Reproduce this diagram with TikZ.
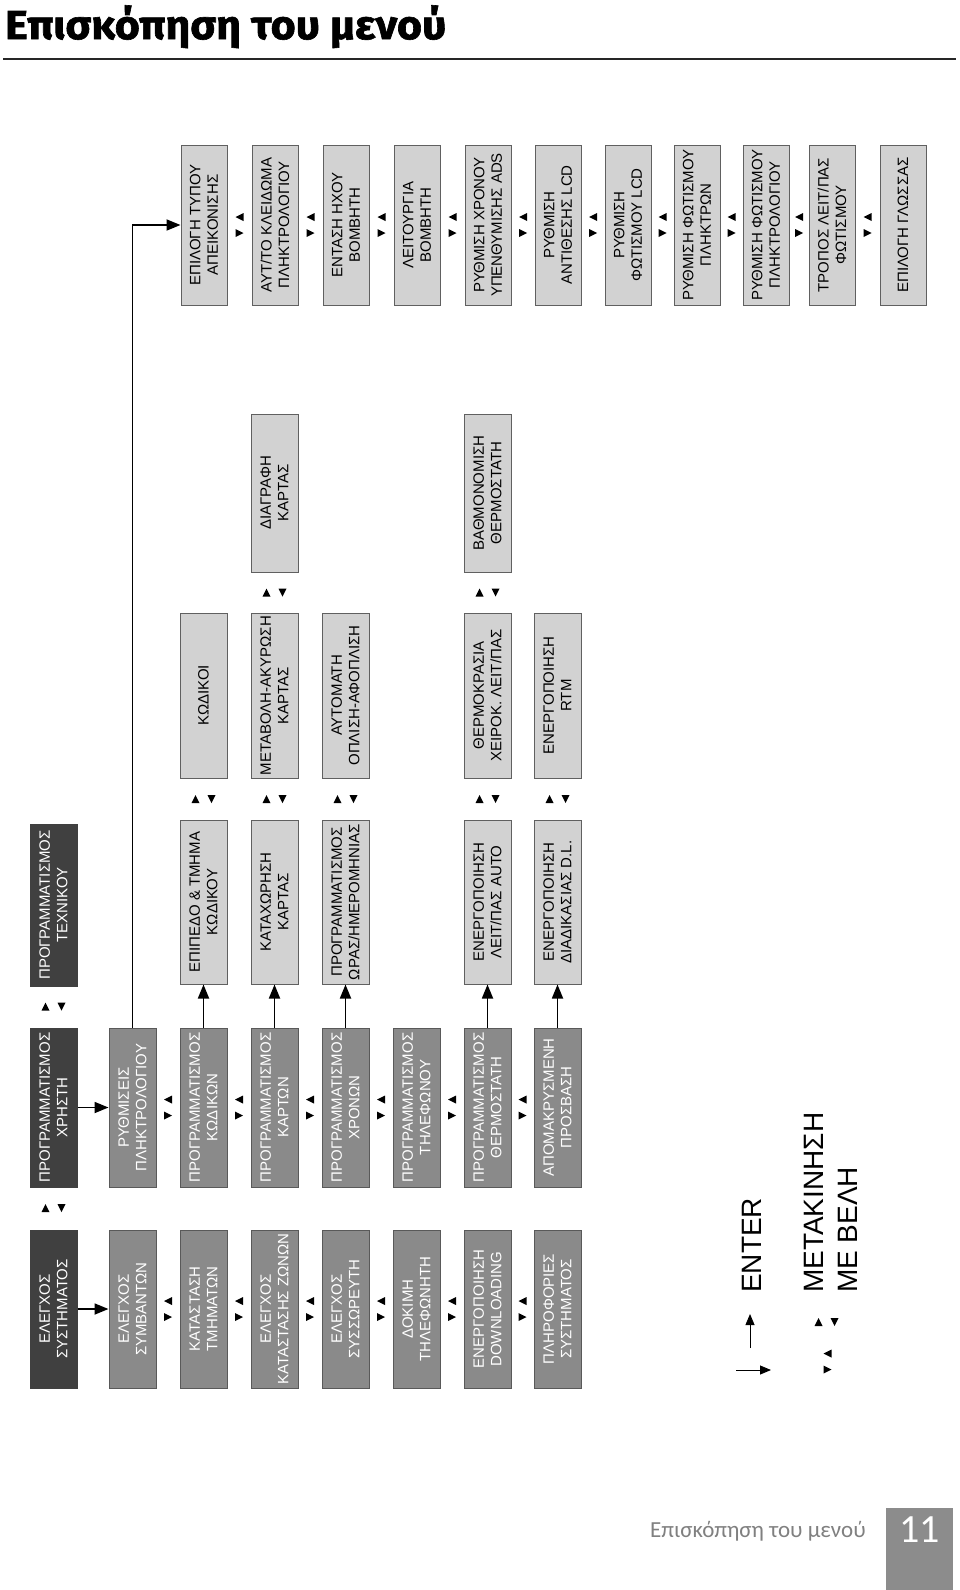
\documentclass[tikz,border=0pt]{standalone}
\usepackage{fontspec}
\usepackage{graphicx}
\setmainfont{Liberation Sans}
\newfontfamily\titlefont[BoldFeatures={FakeBold=1.5}]{Fira Sans}
\newfontfamily\footfont{Carlito}
\usetikzlibrary{arrows.meta}
\definecolor{darkbox}{HTML}{404040}
\definecolor{midbox}{HTML}{8A8A8A}
\definecolor{lightfill}{HTML}{D2D2D2}
\definecolor{boxline}{HTML}{606060}
\definecolor{footgray}{HTML}{8C8C8C}
\definecolor{foottext}{HTML}{808080}
\newcommand\navUD[2]{\fill[shift={(#1,#2)}] (-12,4) -- (-4,4) -- (-8,-4) -- cycle (4,-4) -- (12,-4) -- (8,4) -- cycle;}
\newcommand\navLR[2]{\fill[shift={(#1,#2)}] (4,-12) -- (4,-4) -- (-4,-8) -- cycle (-4,4) -- (-4,12) -- (4,8) -- cycle;}
\begin{document}
\begin{tikzpicture}[x=1pt,y=-1pt,
  box/.style={rotate=90, inner sep=0pt, minimum height=47pt, align=center, font=\fontsize{15}{17.5}\selectfont, line width=1pt},
  darkbx/.style={box, fill=darkbox, draw=darkbox, text=white},
  midbx/.style={box, fill=midbox, draw=black!65, text=white},
  lightbx/.style={box, fill=lightfill, draw=boxline, text=black},
  topbx/.style={lightbx, minimum height=46pt, minimum width=160pt},
  enter/.style={line width=1.8pt, -{Triangle[length=14pt,width=11pt]}},
  legarrow/.style={line width=0.9pt, -{Triangle[length=11pt,width=9pt]}},
]
\fill[white] (0,0) rectangle (960,1590);
\useasboundingbox (0,0) rectangle (960,1590);

% title
\node[anchor=north west, inner sep=0pt] (title) at (5,5) {\resizebox*{441pt}{43pt}{\titlefont\bfseries Επισκόπηση του μενού}};
\draw[line width=1.5pt, black!85] (3,59) -- (956,59);

% row A
\node[darkbx, minimum width=158pt] (a0) at (53.5,1309) {ΕΛΕΓΧΟΣ\\ΣΥΣΤΗΜΑΤΟΣ};
\node[midbx, minimum width=158pt] (a1) at (132.5,1309) {ΕΛΕΓΧΟΣ\\ΣΥΜΒΑΝΤΩΝ};
\node[midbx, minimum width=158pt] (a2) at (203.5,1309) {ΚΑΤΑΣΤΑΣΗ\\ΤΜΗΜΑΤΩΝ};
\node[midbx, minimum width=158pt] (a3) at (274.5,1309) {ΕΛΕΓΧΟΣ\\ΚΑΤΑΣΤΑΣΗΣ ΖΩΝΩΝ};
\node[midbx, minimum width=158pt] (a4) at (345.5,1309) {ΕΛΕΓΧΟΣ\\ΣΥΣΣΩΡΕΥΤΗ};
\node[midbx, minimum width=158pt] (a5) at (416.5,1309) {ΔΟΚΙΜΗ\\ΤΗΛΕΦΩΝΗΤΗ};
\node[midbx, minimum width=158pt] (a6) at (487.5,1309) {ΕΝΕΡΓΟΠΟΙΗΣΗ\\DOWNLOADING};
\node[midbx, minimum width=158pt] (a7) at (557.5,1309) {ΠΛΗΡΟΦΟΡΙΕΣ\\ΣΥΣΤΗΜΑΤΟΣ};

% row B
\node[darkbx, minimum width=159pt] (b0) at (53.5,1107.5) {ΠΡΟΓΡΑΜΜΑΤΙΣΜΟΣ\\ΧΡΗΣΤΗ};
\node[midbx, minimum width=159pt] (b1) at (132.5,1107.5) {ΡΥΘΜΙΣΕΙΣ\\ΠΛΗΚΤΡΟΛΟΓΙΟΥ};
\node[midbx, minimum width=159pt] (b2) at (203.5,1107.5) {ΠΡΟΓΡΑΜΜΑΤΙΣΜΟΣ\\ΚΩΔΙΚΩΝ};
\node[midbx, minimum width=159pt] (b3) at (274.5,1107.5) {ΠΡΟΓΡΑΜΜΑΤΙΣΜΟΣ\\ΚΑΡΤΩΝ};
\node[midbx, minimum width=159pt] (b4) at (345.5,1107.5) {ΠΡΟΓΡΑΜΜΑΤΙΣΜΟΣ\\ΧΡΟΝΩΝ};
\node[midbx, minimum width=159pt] (b5) at (416.5,1107.5) {ΠΡΟΓΡΑΜΜΑΤΙΣΜΟΣ\\ΤΗΛΕΦΩΝΟΥ};
\node[midbx, minimum width=159pt] (b6) at (487.5,1107.5) {ΠΡΟΓΡΑΜΜΑΤΙΣΜΟΣ\\ΘΕΡΜΟΣΤΑΤΗ};
\node[midbx, minimum width=159pt] (b7) at (557.5,1107.5) {ΑΠΟΜΑΚΡΥΣΜΕΝΗ\\ΠΡΟΣΒΑΣΗ};

% row C
\node[darkbx, minimum width=162pt] (c0) at (53.5,905) {ΠΡΟΓΡΑΜΜΑΤΙΣΜΟΣ\\ΤΕΧΝΙΚΟΥ};
\node[lightbx, minimum width=164pt] (c2) at (203.5,902) {ΕΠΙΠΕΔΟ \& ΤΜΗΜΑ\\ΚΩΔΙΚΟΥ};
\node[lightbx, minimum width=164pt] (c3) at (274.5,902) {ΚΑΤΑΧΩΡΗΣΗ\\ΚΑΡΤΑΣ};
\node[lightbx, minimum width=164pt] (c4) at (345.5,902) {ΠΡΟΓΡΑΜΜΑΤΙΣΜΟΣ\\ΩΡΑΣ/ΗΜΕΡΟΜΗΝΙΑΣ};
\node[lightbx, minimum width=164pt] (c6) at (487.5,902) {ΕΝΕΡΓΟΠΟΙΗΣΗ\\ΛΕΙΤ/ΠΑΣ AUTO};
\node[lightbx, minimum width=164pt] (c7) at (557.5,902) {ΕΝΕΡΓΟΠΟΙΗΣΗ\\ΔΙΑΔΙΚΑΣΙΑΣ D.L.};

% row D
\node[lightbx, minimum width=165pt] (d2) at (203.5,695.5) {ΚΩΔΙΚΟΙ};
\node[lightbx, minimum width=165pt] (d3) at (274.5,695.5) {ΜΕΤΑΒΟΛΗ-ΑΚΥΡΩΣΗ\\ΚΑΡΤΑΣ};
\node[lightbx, minimum width=165pt] (d4) at (345.5,695.5) {ΑΥΤΟΜΑΤΗ\\ΟΠΛΙΣΗ-ΑΦΟΠΛΙΣΗ};
\node[lightbx, minimum width=165pt] (d6) at (487.5,695.5) {ΘΕΡΜΟΚΡΑΣΙΑ\\ΧΕΙΡΟΚ. ΛΕΙΤ/ΠΑΣ};
\node[lightbx, minimum width=165pt] (d7) at (557.5,695.5) {ΕΝΕΡΓΟΠΟΙΗΣΗ\\RTM};

% row E
\node[lightbx, minimum width=158pt] (e3) at (274.5,493) {ΔΙΑΓΡΑΦΗ\\ΚΑΡΤΑΣ};
\node[lightbx, minimum width=158pt] (e6) at (487.5,493) {ΒΑΘΜΟΝΟΜΙΣΗ\\ΘΕΡΜΟΣΤΑΤΗ};

% row F
\node[topbx] (f0) at (204,225) {ΕΠΙΛΟΓΗ ΤΥΠΟΥ\\ΑΠΕΙΚΟΝΙΣΗΣ};
\node[topbx] (f1) at (275,225) {ΑΥΤ/ΤΟ ΚΛΕΙΔΩΜΑ\\ΠΛΗΚΤΡΟΛΟΓΙΟΥ};
\node[topbx] (f2) at (346,225) {ΕΝΤΑΣΗ ΗΧΟΥ\\ΒΟΜΒΗΤΗ};
\node[topbx] (f3) at (417,225) {ΛΕΙΤΟΥΡΓΙΑ\\ΒΟΜΒΗΤΗ};
\node[topbx] (f4) at (488,225) {ΡΥΘΜΙΣΗ ΧΡΟΝΟΥ\\ΥΠΕΝΘΥΜΙΣΗΣ ADS};
\node[topbx] (f5) at (558,225) {ΡΥΘΜΙΣΗ\\ΑΝΤΙΘΕΣΗΣ LCD};
\node[topbx] (f6) at (628,225) {ΡΥΘΜΙΣΗ\\ΦΩΤΙΣΜΟΥ LCD};
\node[topbx] (f7) at (697,225) {ΡΥΘΜΙΣΗ ΦΩΤΙΣΜΟΥ\\ΠΛΗΚΤΡΩΝ};
\node[topbx] (f8) at (766,225) {ΡΥΘΜΙΣΗ ΦΩΤΙΣΜΟΥ\\ΠΛΗΚΤΡΟΛΟΓΙΟΥ};
\node[topbx] (f9) at (832,225) {ΤΡΟΠΟΣ ΛΕΙΤ/ΠΑΣ\\ΦΩΤΙΣΜΟΥ};
\node[topbx] (f10) at (903,225) {ΕΠΙΛΟΓΗ ΓΛΩΣΣΑΣ};

% enter connectors
\draw[enter] (a0.south) -- (a1.north);
\draw[enter] (b0.south) -- (b1.north);
\draw[enter] (b1.east) |- (f0.north);
\draw[enter] (b2.east) -- (c2.west);
\draw[enter] (b3.east) -- (c3.west);
\draw[enter] (b4.east) -- (c4.west);
\draw[enter] (b6.east) -- (c6.west);
\draw[enter] (b7.east) -- (c7.west);

% navigation marks
\navUD{53.5}{1208}
\navUD{53.5}{1006.5}
\foreach \cx in {203.5,274.5,345.5,487.5,557.5} {\navUD{\cx}{799}}
\foreach \cx in {274.5,487.5} {\navUD{\cx}{592.5}}
\foreach \cx in {168,239,310,381,452,522.5} {\navLR{\cx}{1309}\navLR{\cx}{1107.5}}
\foreach \cx in {239.5,310.5,381.5,452.5,523,593,662.5,731.5,799,867.5} {\navLR{\cx}{225}}

% legend
\coordinate (lh1) at (736,1370);
\coordinate (lh2) at (771,1370);
\coordinate (lv1) at (750,1348);
\coordinate (lv2) at (750,1314);
\draw[legarrow] (lh1) -- (lh2);
\draw[legarrow] (lv1) -- (lv2);
\node[rotate=90, anchor=west, inner sep=0pt, font=\fontsize{28}{34}\selectfont] (lenter) at (752,1293) {ENTER};
\navUD{826.5}{1322}
\navLR{827.5}{1361.5}
\node[rotate=90, anchor=west, inner sep=0pt, align=left, font=\fontsize{28}{34}\selectfont] (lmove) at (831,1293) {ΜΕΤΑΚΙΝΗΣΗ\\ΜΕ ΒΕΛΗ};

% footer
\node[anchor=east, inner sep=0pt, text=foottext, font=\footfont\fontsize{23}{23}\selectfont] (ftext) at (866,1531) {Επισκόπηση του μενού};
\node[anchor=north west, fill=footgray, minimum width=67pt, minimum height=82pt, inner sep=0pt] (pgbox) at (886,1508) {};
\node[text=white, inner sep=0pt, font=\footfont\fontsize{40}{40}\selectfont] (pgnum) at (919.5,1530) {11};
\end{tikzpicture}
\end{document}
